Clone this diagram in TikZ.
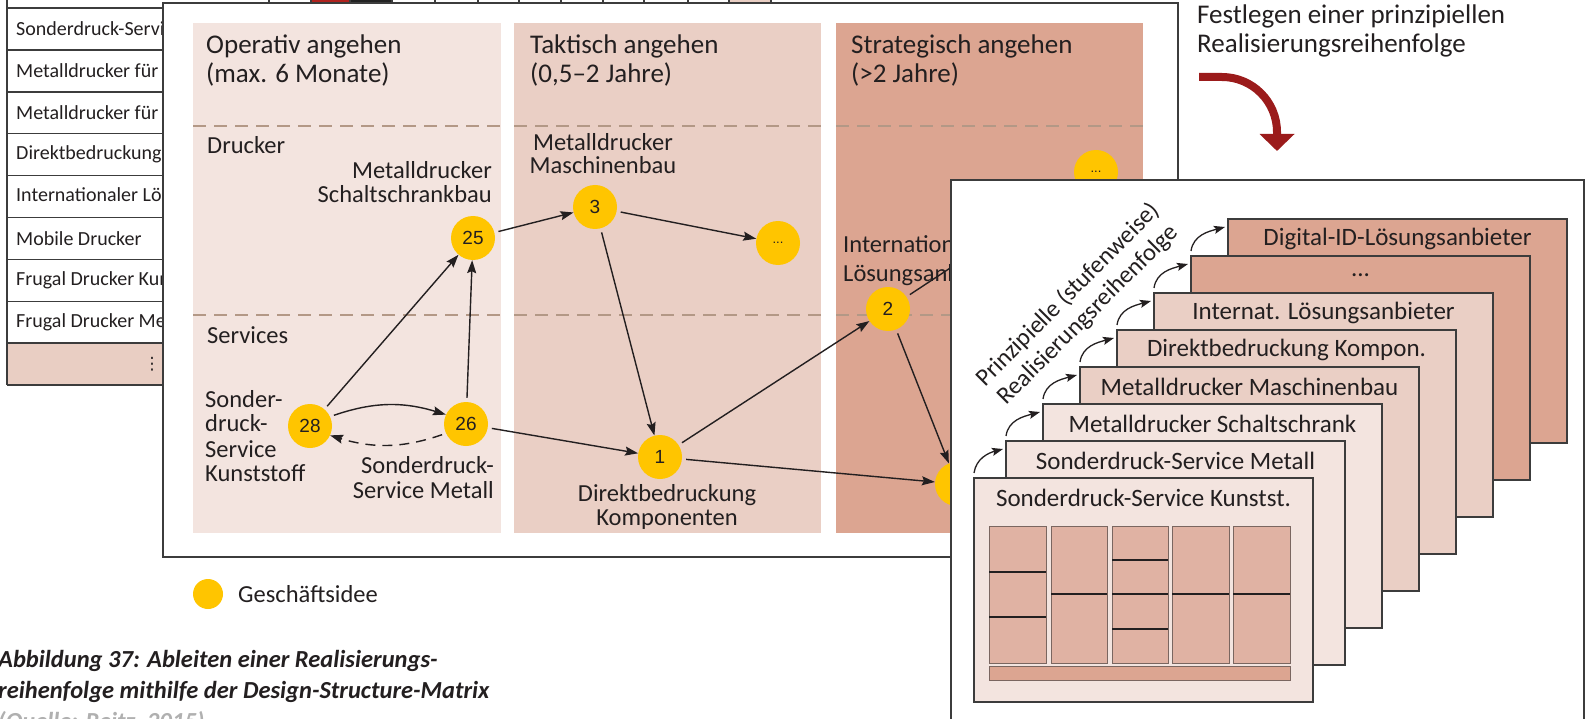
\documentclass[tikz,border=0pt]{standalone}
\usepackage{fontspec}
\setmainfont{Carlito}
\newfontfamily\numfont{Liberation Sans}
\newfontfamily\symfont{DejaVu Sans}
\usetikzlibrary{arrows.meta}
\definecolor{txt}{HTML}{231F20}
\definecolor{colA}{HTML}{F3E4DF}
\definecolor{colB}{HTML}{EACFC5}
\definecolor{colC}{HTML}{DCA591}
\definecolor{pinkrow}{HTML}{E9CEC3}
\definecolor{dashcol}{HTML}{B39886}
\definecolor{panelline}{HTML}{3C3C3C}
\definecolor{ideayellow}{HTML}{FFC500}
\definecolor{arrowred}{HTML}{9B1B1B}
\definecolor{capgray}{HTML}{B0B0B0}
\definecolor{cellfill}{HTML}{E0B2A3}
\definecolor{cellline}{HTML}{7A6660}
\definecolor{stripred}{HTML}{B0221E}
\definecolor{stripdark}{HTML}{222222}
\tikzset{
  idea/.style={circle, fill=ideayellow, minimum size=44pt, inner sep=0pt, text=txt, font=\numfont\fontsize{19}{19}\selectfont},
  edge/.style={draw=txt, line width=1.4pt, shorten <=4pt, -{Stealth[length=13pt,width=9pt,inset=2pt]}},
  lbl/.style={text=txt, inner sep=0pt, font=\fontsize{24.5}{29}\selectfont},
  hdr/.style={text=txt, inner sep=0pt, font=\fontsize{27}{29}\selectfont, anchor=base west},
  tbl/.style={text=txt, inner sep=0pt, font=\fontsize{20}{22}\selectfont, anchor=west},
  tableline/.style={draw=panelline, line width=1.6pt},
  card/.style={draw=panelline, line width=1.6pt, minimum width=339pt, minimum height=224pt, anchor=north west, inner sep=0pt, outer sep=0pt},
  cardtitle/.style={text=txt, inner sep=0pt, font=\fontsize{25}{25}\selectfont},
  seq/.style={draw=txt, line width=1.3pt, -{Stealth[length=11pt,width=8pt,inset=2pt]}},
  divider/.style={draw=dashcol, line width=1.5pt, dash pattern=on 13pt off 8pt},
  panel/.style={draw=panelline, line width=1.6pt, fill=white},
  gridcell/.style={draw=cellline, line width=1pt, fill=cellfill},
  split/.style={draw=txt, line width=1.1pt},
}
\begin{document}
\begin{tikzpicture}[x=1pt,y=1pt]
\useasboundingbox (0,0) rectangle (1586,-719);

% ---- top strip of the matrix (cut off) ----
\foreach \a/\b/\c in {269/311/white,311/350/stripred,350/392/stripdark,392/435/white,435/478/white,478/519/white,519/561/white,561/603/white,603/644/white,644/688/white,688/729/white,729/771/pinkrow}
  \draw[tableline, fill=\c] (\a,6) rectangle (\b,-3);

% ---- left table (cut off) ----
\fill[pinkrow] (7,-343.2) rectangle (320,-385.1);
\draw[tableline] (7,6) -- (7,-385.1);
\foreach \i in {0,...,9}
  \draw[tableline] (7,{-8-41.9*\i}) -- (320,{-8-41.9*\i});
\node[tbl] (r1) at (16,-29) {Sonderdruck-Service Kunststoff};
\node[tbl] (r2) at (16,-70.9) {Metalldrucker für Schaltschrankbau};
\node[tbl] (r3) at (16,-112.8) {Metalldrucker für Maschinenbau};
\node[tbl] (r4) at (16,-154.7) {Direktbedruckung Komponenten};
\node[tbl] (r5) at (16,-196.6) {Internationaler Lösungsanbieter};
\node[tbl] (r6) at (16,-238.5) {Mobile Drucker};
\node[tbl] (r7) at (16,-280.4) {Frugal Drucker Kunststoff};
\node[tbl] (r8) at (16,-322.3) {Frugal Drucker Metall};
\node[text=txt, inner sep=0pt, font=\symfont\fontsize{17}{17}\selectfont] (vdots) at (152,-364) {⋮};

% ---- main panel ----
\draw[panel] (163,-3) rectangle (1178,-557);
\fill[colA] (193,-23) rectangle (501,-533);
\fill[colB] (514,-23) rectangle (821,-533);
\fill[colC] (836,-23) rectangle (1143,-533);
\foreach \l/\r in {193/501,514/821,836/1143}{
  \draw[divider] (\l,-126) -- (\r,-126);
  \draw[divider] (\l,-315) -- (\r,-315);
}
\node[hdr] (h1a) at (206,-54) {Operativ angehen};
\node[hdr] (h1b) at (206,-83) {(max. 6 Monate)};
\node[hdr] (h2a) at (530,-54) {Taktisch angehen};
\node[hdr] (h2b) at (530,-83) {(0,5–2 Jahre)};
\node[hdr] (h3a) at (851,-54) {Strategisch angehen};
\node[hdr] (h3b) at (851,-83) {(>2 Jahre)};

\node[lbl, anchor=base west] (drucker) at (207,-154) {Drucker};
\node[lbl, anchor=base west] (services) at (207,-343) {Services};

% ---- ideas ----
\node[idea] (n25) at (473,-238) {25};
\node[idea] (n3) at (595,-207) {3};
\node[idea] (nd2) at (778,-243) {\fontsize{13}{13}\selectfont ...};
\node[idea] (n28) at (310,-426) {28};
\node[idea] (n26) at (466,-424) {26};
\node[idea] (n1) at (660,-457) {1};
\node[idea] (n2) at (888,-309) {2};
\node[idea] (nd3) at (1096,-172) {\fontsize{13}{13}\selectfont ...};
\node[idea] (nx) at (957,-484) {};

% ---- labels ----
\node[lbl, anchor=base east] (l25a) at (492,-179) {Metalldrucker};
\node[lbl, anchor=base east] (l25b) at (492,-203) {Schaltschrankbau};
\node[lbl, anchor=base] (l3a) at (603,-151) {Metalldrucker};
\node[lbl, anchor=base] (l3b) at (603,-174) {Maschinenbau};
\node[lbl, anchor=base west] (l28a) at (205,-407) {Sonder-};
\node[lbl, anchor=base west] (l28b) at (205,-431) {druck-};
\node[lbl, anchor=base west] (l28c) at (205,-457) {Service};
\node[lbl, anchor=base west] (l28d) at (205,-481) {Kunststoff};
\node[lbl, anchor=base east] (l26a) at (494,-473) {Sonderdruck-};
\node[lbl, anchor=base east] (l26b) at (494,-498) {Service Metall};
\node[lbl, anchor=base] (l1a) at (667,-501) {Direktbedruckung};
\node[lbl, anchor=base] (l1b) at (667,-525) {Komponenten};
\node[lbl, anchor=base west] (l2a) at (843,-252) {Internationaler};
\node[lbl, anchor=base west] (l2b) at (843,-281) {Lösungsanbieter};

% ---- connectors ----
\draw[edge] (n28) -- (n25);
\draw[edge] (n26) -- (n25);
\draw[edge] (n25) -- (n3);
\draw[edge] (n3) -- (nd2);
\draw[edge] (n3) -- (n1);
\draw[edge] (n26) -- (n1);
\draw[edge] (n1) -- (n2);
\draw[edge] (n1) -- (nx);
\draw[edge] (n2) -- (nx);
\draw[edge] (n2) -- (nd3);
\draw[edge] (n28.25) to[bend left=18] (n26.155);
\draw[edge, dash pattern=on 10pt off 7pt] (n26.205) to[bend left=18] (n28.-25);

% ---- card panel ----
\draw[panel] (951,-180) rectangle (1584,-760);
\node[card, fill=colC] (c8) at (1228,-219) {};
\node[cardtitle] (t8) at ([yshift=-19.5pt]c8.north) {Digital-ID-Lösungsanbieter};
\node[card, fill=colC] (c7) at (1191,-256) {};
\node[cardtitle] (t7) at ([yshift=-19.5pt]c7.north) {...};
\node[card, fill=colB] (c6) at (1154,-293) {};
\node[cardtitle] (t6) at ([yshift=-19.5pt]c6.north) {Internat. Lösungsanbieter};
\node[card, fill=colB] (c5) at (1117,-330) {};
\node[cardtitle] (t5) at ([yshift=-19.5pt]c5.north) {Direktbedruckung Kompon.};
\node[card, fill=colB] (c4) at (1080,-367) {};
\node[cardtitle] (t4) at ([yshift=-19.5pt]c4.north) {Metalldrucker Maschinenbau};
\node[card, fill=colA] (c3) at (1043,-404) {};
\node[cardtitle] (t3) at ([yshift=-19.5pt]c3.north) {Metalldrucker Schaltschrank};
\node[card, fill=colA] (c2) at (1006,-441) {};
\node[cardtitle] (t2) at ([yshift=-19.5pt]c2.north) {Sonderdruck-Service Metall};
\node[card, fill=colA] (c1) at (974,-478) {};
\node[cardtitle] (t1) at ([yshift=-19.5pt]c1.north) {Sonderdruck-Service Kunstst.};

\begin{scope}[shift={(974,-478)}]
  \draw[gridcell] (15,-48) rectangle (72,-185);
  \draw[gridcell] (77,-48) rectangle (133,-185);
  \draw[gridcell] (138,-48) rectangle (194,-185);
  \draw[gridcell] (198,-48) rectangle (255,-185);
  \draw[gridcell] (259,-48) rectangle (316,-185);
  \draw[gridcell, fill=colC] (15,-188) rectangle (316,-202);
  \draw[split] (15,-94) -- (72,-94);
  \draw[split] (15,-139) -- (72,-139);
  \draw[split] (77,-116) -- (133,-116);
  \draw[split] (138,-82) -- (194,-82);
  \draw[split] (138,-116) -- (194,-116);
  \draw[split] (138,-151) -- (194,-151);
  \draw[split] (198,-116) -- (255,-116);
  \draw[split] (259,-116) -- (316,-116);
\end{scope}

\foreach \a/\b in {c1/c2,c2/c3,c3/c4,c4/c5,c5/c6,c6/c7,c7/c8}
  \draw[seq] ([xshift=0pt,yshift=5pt]\a.north west) to[out=82,in=195] ([xshift=-3pt,yshift=-8pt]\b.north west);

\node[rotate=45, align=center, text=txt, inner sep=0pt, font=\fontsize{24.5}{28}\selectfont] (rot) at (1078,-305) {Prinzipielle (stufenweise)\\Realisierungsreihenfolge};

% ---- top right ----
\node[hdr] (fest1) at (1197,-24) {Festlegen einer prinzipiellen};
\node[hdr] (fest2) at (1197,-53) {Realisierungsreihenfolge};
\draw[draw=arrowred, line width=8pt, -{Triangle[length=17pt,width=34pt]}] (1199,-77) -- (1222,-77) arc[start angle=90, end angle=0, radius=55] -- (1277,-151);

% ---- legend ----
\node[idea, minimum size=30pt] (leg) at (208,-594) {};
\node[lbl, anchor=west] (legt) at (238,-594) {Geschäftsidee};

% ---- caption ----
\node[anchor=base west, inner sep=0pt, text=txt, font=\fontsize{24.5}{30}\selectfont\bfseries\itshape] (cap1) at (-2,-667) {Abbildung 37: Ableiten einer Realisierungs-};
\node[anchor=base west, inner sep=0pt, text=txt, font=\fontsize{24.5}{30}\selectfont\bfseries\itshape] (cap2) at (-2,-698) {reihenfolge mithilfe der Design-Structure-Matrix};
\node[anchor=base west, inner sep=0pt, text=capgray, font=\fontsize{24.5}{30}\selectfont\bfseries\itshape] (cap3) at (-2,-729) {(Quelle: Reitz, 2015)};
\end{tikzpicture}
\end{document}
